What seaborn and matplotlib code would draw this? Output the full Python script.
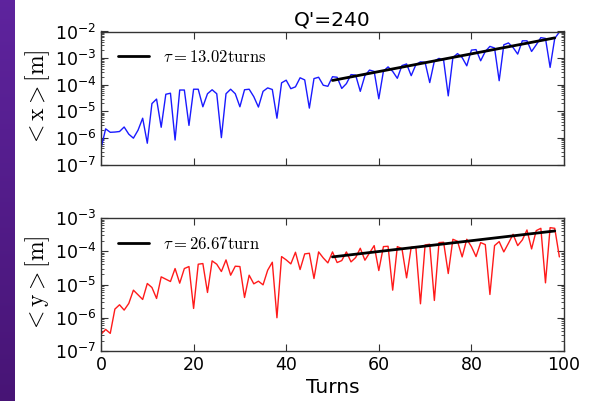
import numpy as np
import pandas as pd
import matplotlib
matplotlib.use("Agg")
import matplotlib.pyplot as plt
from matplotlib.ticker import LogLocator, NullFormatter
import seaborn as sns

# ---- data (log10 of the amplitude) ----
turns = list(range(100))
x_log10 = [-6.40, -5.66, -5.79, -5.78, -5.76, -5.59, -5.86, -6.01, -5.71, -5.26,
           -6.20, -4.71, -4.54, -5.60, -4.36, -4.32, -6.08, -4.20, -4.20, -5.53,
           -4.17, -4.17, -4.83, -4.34, -4.19, -4.34, -5.99, -4.34, -4.17, -4.34,
           -4.83, -4.19, -4.17, -4.45, -4.84, -4.25, -4.12, -4.18, -5.26, -3.93,
           -3.83, -4.15, -4.08, -3.74, -3.82, -4.88, -3.77, -3.72, -4.02, -4.06,
           -3.70, -3.72, -4.14, -3.96, -3.62, -3.64, -4.25, -3.66, -3.45, -3.50,
           -4.53, -3.49, -3.33, -3.50, -3.76, -3.28, -3.22, -3.66, -3.25, -3.14,
           -3.16, -3.92, -3.11, -3.01, -3.08, -4.42, -2.98, -2.83, -2.98, -3.29,
           -2.70, -2.68, -3.10, -2.75, -2.56, -2.62, -3.85, -2.50, -2.43, -2.60,
           -2.85, -2.35, -2.35, -2.75, -2.50, -2.23, -2.26, -3.35, -2.26, -2.02]
y_log10 = [-6.50, -6.35, -6.47, -5.74, -5.61, -5.77, -5.57, -5.17, -5.31, -5.45,
           -4.97, -5.09, -5.42, -4.77, -4.84, -4.91, -4.52, -4.96, -4.52, -4.46,
           -5.72, -4.39, -4.37, -5.24, -4.29, -4.39, -4.61, -4.26, -4.72, -4.45,
           -4.46, -5.39, -4.72, -4.98, -4.90, -5.01, -4.57, -4.33, -6.00, -4.16,
           -4.26, -4.38, -4.03, -4.55, -4.08, -4.06, -4.82, -4.02, -4.20, -4.35,
           -4.02, -4.34, -4.28, -4.02, -4.32, -4.19, -3.91, -4.27, -4.05, -3.83,
           -4.58, -3.86, -3.85, -5.17, -3.86, -3.92, -4.80, -3.88, -3.87, -5.58,
           -3.81, -3.79, -5.48, -3.74, -3.73, -4.67, -3.64, -3.70, -4.17, -3.64,
           -3.86, -4.16, -3.74, -3.80, -5.30, -3.83, -3.71, -4.02, -3.76, -3.49,
           -3.83, -3.66, -3.36, -3.93, -3.38, -3.31, -4.95, -3.29, -3.31, -4.17]

fit_turns = [50, 98]
fit_x_log10 = [-3.84, -2.24]
fit_y_log10 = [-4.17, -3.39]

x_label_fit = r"$\tau=13.02\mathrm{turns}$"
y_label_fit = r"$\tau=26.67\mathrm{turn}$"
title = "Q'=240"
xlabel = "Turns"
x_ticks = [0, 20, 40, 60, 80, 100]

# ---- style ----
sns.set_style("ticks")
plt.rcParams.update({
    "font.family": ["DejaVu Sans"],
    "mathtext.fontset": "cm",
    "axes.unicode_minus": False,
    "text.color": "black",
    "axes.labelcolor": "black",
    "xtick.color": "black",
    "ytick.color": "black",
    "xtick.direction": "in",
    "ytick.direction": "in",
    "xtick.top": True,
    "ytick.right": True,
    "axes.edgecolor": "#333333",
    "axes.linewidth": 1.0,
})

df_x = pd.DataFrame({"turn": turns, "val": 10.0 ** np.array(x_log10)})
df_y = pd.DataFrame({"turn": turns, "val": 10.0 ** np.array(y_log10)})
fit_x = pd.DataFrame({"turn": fit_turns, "val": 10.0 ** np.array(fit_x_log10)})
fit_y = pd.DataFrame({"turn": fit_turns, "val": 10.0 ** np.array(fit_y_log10)})

fig = plt.figure(figsize=(5.92, 4.01), dpi=100)
fig.patch.set_facecolor("white")

# purple strip on the left
strip = fig.add_axes([0, 0, 15 / 592, 1])
grad = np.linspace(0, 1, 256).reshape(-1, 1)
top_c = np.array([0.37, 0.14, 0.62])
bot_c = np.array([0.28, 0.08, 0.46])
img = top_c[None, None, :] * (1 - grad[:, :, None]) + bot_c[None, None, :] * grad[:, :, None]
strip.imshow(img, aspect="auto", extent=[0, 1, 0, 1])
strip.set_axis_off()

W, H = 592, 401
left = 101 / W
width = (564 - 101) / W
ax1 = fig.add_axes([left, 1 - 164.5 / H, width, (164.5 - 31.5) / H])
ax2 = fig.add_axes([left, 1 - 351 / H, width, (351 - 218) / H])

for ax, df, fit, lab, col, ylim, ylab in [
    (ax1, df_x, fit_x, x_label_fit, "#1a1aff", (1e-7, 1e-2), r"$<\mathrm{x}>[\mathrm{m}]$"),
    (ax2, df_y, fit_y, y_label_fit, "#ff1a1a", (1e-7, 1e-3), r"$<\mathrm{y}>[\mathrm{m}]$"),
]:
    ax.set_yscale("log")
    sns.lineplot(data=df, x="turn", y="val", ax=ax, color=col, lw=1.0,
                 estimator=None, legend=False)
    sns.lineplot(data=fit, x="turn", y="val", ax=ax, color="black", lw=2.0,
                 estimator=None, label=lab)
    ax.set_xlim(0, 100)
    ax.set_ylim(*ylim)
    ax.set_xticks(x_ticks)
    ax.yaxis.set_major_locator(LogLocator(base=10, numticks=30))
    ax.yaxis.set_minor_locator(LogLocator(base=10, subs=np.arange(2, 10), numticks=30))
    ax.yaxis.set_minor_formatter(NullFormatter())
    ax.set_ylabel(ylab, fontsize=17, labelpad=2)
    ax.set_xlabel("")
    ax.tick_params(which="major", length=5, width=0.8, labelsize=12.5,
                   top=True, right=True, direction="in", color="#333333",
                   labelcolor="black")
    ax.tick_params(which="minor", length=2.5, width=0.6, top=True, right=True,
                   direction="in", color="#333333")
    ax.tick_params(axis="x", which="minor", top=False, bottom=False)
    ax.legend(loc="upper left", frameon=False, fontsize=12,
              handlelength=1.9, borderaxespad=0.6, handletextpad=0.8)
    for s in ax.spines.values():
        s.set_visible(True)

ax1.tick_params(axis="x", labelbottom=False)
ax1.set_title(title, fontsize=14.5, pad=4, color="black")
ax2.set_xlabel(xlabel, fontsize=14.5, labelpad=3, color="black")

fig.savefig("out.png", dpi=100, facecolor="white")
